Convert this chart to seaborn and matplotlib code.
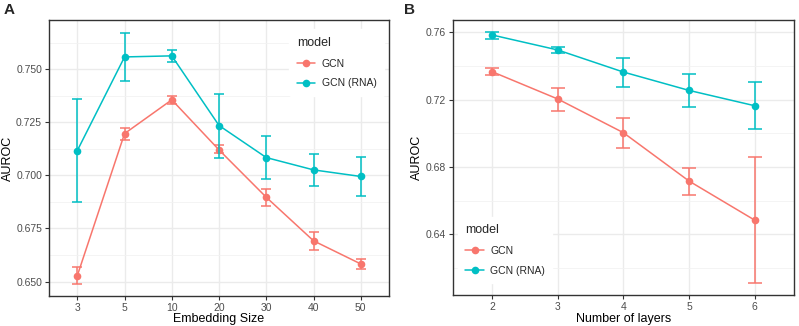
import numpy as np
import pandas as pd
import matplotlib
matplotlib.use("Agg")
import matplotlib.pyplot as plt
import seaborn as sns

# panel A: embedding size
emb_sizes = ["3", "5", "10", "20", "30", "40", "50"]
gcn_emb = [0.6528, 0.7197, 0.7356, 0.7120, 0.6897, 0.6692, 0.6583]
gcn_emb_lo = [0.6489, 0.7166, 0.7335, 0.7104, 0.6856, 0.6648, 0.6558]
gcn_emb_hi = [0.6569, 0.7225, 0.7376, 0.7142, 0.6935, 0.6732, 0.6605]
rna_emb = [0.7117, 0.7558, 0.7563, 0.7235, 0.7084, 0.7026, 0.6995]
rna_emb_lo = [0.6874, 0.7445, 0.7535, 0.7081, 0.6982, 0.6951, 0.6902]
rna_emb_hi = [0.7360, 0.7673, 0.7589, 0.7382, 0.7184, 0.7103, 0.7087]

# panel B: number of layers
layers = [2, 3, 4, 5, 6]
gcn_lay = [0.7366, 0.7204, 0.7004, 0.6717, 0.6485]
gcn_lay_lo = [0.7345, 0.7131, 0.6915, 0.6634, 0.6109]
gcn_lay_hi = [0.7386, 0.7271, 0.7093, 0.6796, 0.6861]
rna_lay = [0.7584, 0.7495, 0.7364, 0.7255, 0.7164]
rna_lay_lo = [0.7560, 0.7475, 0.7277, 0.7154, 0.7026]
rna_lay_hi = [0.7604, 0.7515, 0.7450, 0.7354, 0.7303]

models = ["GCN", "GCN (RNA)"]
palette = {"GCN": "#F8766D", "GCN (RNA)": "#00BFC4"}

sns.set_theme(style="white")
plt.rcParams["font.family"] = ["Liberation Sans", "DejaVu Sans"]


def style_axes(ax):
    for s in ax.spines.values():
        s.set_color("#333333")
        s.set_linewidth(1.0)
    ax.grid(True, which="major", color="#EBEBEB", linewidth=1.0)
    ax.grid(True, which="minor", axis="y", color="#F2F2F2", linewidth=0.6)
    ax.set_axisbelow(True)
    ax.tick_params(axis="both", which="major", length=3, width=0.8, color="#333333",
                   labelsize=7.5, labelcolor="#4D4D4D", bottom=True, left=True, pad=2)
    ax.tick_params(axis="both", which="minor", length=0)


def draw_panel(ax, xpos, gcn, gcn_lo, gcn_hi, rna, rna_lo, rna_hi, cap):
    df = pd.DataFrame({
        "x": list(xpos) * 2,
        "AUROC": list(gcn) + list(rna),
        "model": ["GCN"] * len(xpos) + ["GCN (RNA)"] * len(xpos),
    })
    sns.lineplot(data=df, x="x", y="AUROC", hue="model", palette=palette,
                 marker="o", markersize=5.5, markeredgewidth=0, linewidth=1.1, ax=ax)
    for m, y, lo, hi in [("GCN", gcn, gcn_lo, gcn_hi), ("GCN (RNA)", rna, rna_lo, rna_hi)]:
        y = np.array(y)
        err = [y - np.array(lo), np.array(hi) - y]
        ax.errorbar(xpos, y, yerr=err, fmt="none", ecolor=palette[m],
                    elinewidth=1.1, capsize=cap, capthick=1.1)


def style_legend(leg):
    fr = leg.get_frame()
    fr.set_edgecolor("white")
    fr.set_facecolor("white")
    fr.set_alpha(1)


fig = plt.figure(figsize=(7.99, 3.26), dpi=100)
axA = fig.add_axes([0.0613, 0.092, 0.4257, 0.8467])
axB = fig.add_axes([0.5666, 0.095, 0.4271, 0.8437])

# A
xa = np.arange(len(emb_sizes))
draw_panel(axA, xa, gcn_emb, gcn_emb_lo, gcn_emb_hi, rna_emb, rna_emb_lo, rna_emb_hi, 3.4)
axA.set_xticks(xa)
axA.set_xticklabels(emb_sizes)
axA.set_xlim(-0.6, len(emb_sizes) - 0.4)
axA.set_ylim(0.6432, 0.7732)
axA.set_yticks([0.650, 0.675, 0.700, 0.725, 0.750])
axA.set_yticklabels(["0.650", "0.675", "0.700", "0.725", "0.750"])
axA.set_yticks([0.6625, 0.6875, 0.7125, 0.7375, 0.7625], minor=True)
axA.set_xlabel("Embedding Size", fontsize=9, color="black")
axA.set_ylabel("AUROC", fontsize=9, color="black")
axA.xaxis.set_label_coords(0.5, -0.062)
axA.yaxis.set_label_coords(-0.103, 0.5)
style_axes(axA)
legA = axA.legend(title="model", loc="upper right", bbox_to_anchor=(1.0, 0.985),
                  frameon=True, fontsize=7.5, title_fontsize=9, handlelength=1.8,
                  borderpad=0.7, labelspacing=0.95, handletextpad=0.6, alignment="left")
style_legend(legA)

# B
draw_panel(axB, layers, gcn_lay, gcn_lay_lo, gcn_lay_hi, rna_lay, rna_lay_lo, rna_lay_hi, 4.8)
axB.set_xticks(layers)
axB.set_xlim(layers[0] - 0.6, layers[-1] + 0.6)
axB.set_ylim(0.6040, 0.7673)
axB.set_yticks([0.64, 0.68, 0.72, 0.76])
axB.set_yticklabels(["0.64", "0.68", "0.72", "0.76"])
axB.set_yticks([0.62, 0.66, 0.70, 0.74], minor=True)
axB.set_xlabel("Number of layers", fontsize=9, color="black")
axB.set_ylabel("AUROC", fontsize=9, color="black")
axB.xaxis.set_label_coords(0.5, -0.065)
axB.yaxis.set_label_coords(-0.086, 0.5)
style_axes(axB)
legB = axB.legend(title="model", loc="lower left", bbox_to_anchor=(0.0, 0.025),
                  frameon=True, fontsize=7.5, title_fontsize=9, handlelength=1.8,
                  borderpad=0.7, labelspacing=0.95, handletextpad=0.6, alignment="left")
style_legend(legB)

fig.text(0.004, 0.99, "A", fontsize=11, fontweight="bold", va="top", ha="left")
fig.text(0.506, 0.99, "B", fontsize=11, fontweight="bold", va="top", ha="left")

fig.savefig("out.png", dpi=100)
